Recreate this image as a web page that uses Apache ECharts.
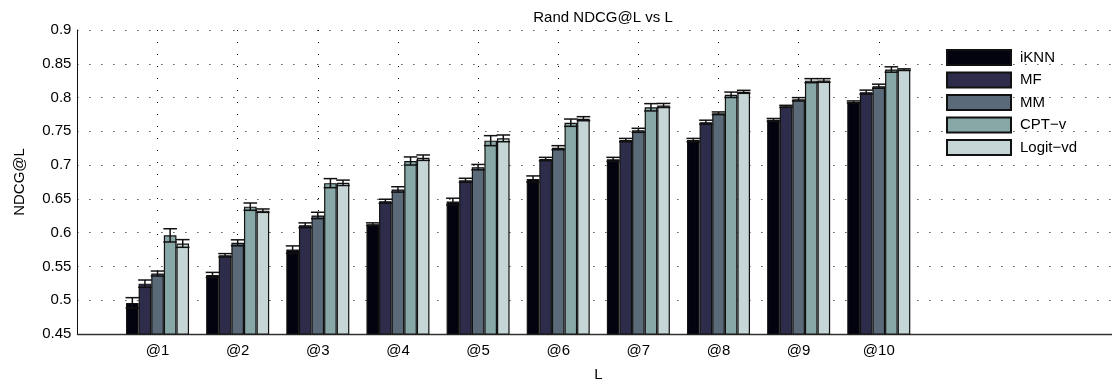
<!DOCTYPE html>
<html>
<head>
<meta charset="utf-8">
<script src="https://cdn.jsdelivr.net/npm/echarts@6/dist/echarts.min.js"></script>
<style>
html,body{margin:0;padding:0;background:#fff;}
#chart{width:1112px;height:381px;}
</style>
</head>
<body>
<div id="chart"></div>
<script>
// ---- data ----
const categories = ['', '@1', '@2', '@3', '@4', '@5', '@6', '@7', '@8', '@9', '@10', '', '', ''];
const seriesNames = ['iKNN', 'MF', 'MM', 'CPT\u2212v', 'Logit\u2212vd'];
const iKNN     = [0.496, 0.5375, 0.575, 0.6125, 0.646, 0.6795, 0.7085, 0.737, 0.767, 0.7935];
const MF       = [0.5245, 0.5665, 0.611, 0.6465, 0.6775, 0.709, 0.737, 0.7635, 0.787, 0.808];
const MM       = [0.5395, 0.585, 0.6255, 0.6640, 0.697, 0.7258, 0.7515, 0.7767, 0.7974, 0.8168];
const CPTv     = [0.5960, 0.6385, 0.6733, 0.7061, 0.7362, 0.7628, 0.7856, 0.8041, 0.8250, 0.8415];
const LogitVd  = [0.584, 0.6326, 0.6738, 0.7110, 0.7396, 0.7687, 0.7883, 0.8085, 0.8253, 0.8413];
const iKNNErr    = [0.0078, 0.0037, 0.0054, 0.002, 0.005, 0.0045, 0.003, 0.0025, 0.002, 0.0015];
const MFErr      = [0.0054, 0.0025, 0.0035, 0.003, 0.003, 0.0025, 0.0025, 0.003, 0.0015, 0.003];
const MMErr      = [0.0037, 0.0044, 0.0047, 0.004, 0.004, 0.003, 0.003, 0.002, 0.0025, 0.003];
const CPTvErr    = [0.0098, 0.0054, 0.0067, 0.006, 0.0074, 0.0054, 0.0054, 0.004, 0.003, 0.004];
const LogitVdErr = [0.0057, 0.0025, 0.004, 0.004, 0.005, 0.003, 0.003, 0.0022, 0.0027, 0.0012];
const yTicks = { min: 0.45, max: 0.9, step: 0.05 };

// ---- styling ----
const colors = ['#03030f', '#2d2d4b', '#5a6a79', '#87a8a6', '#c6d5d5'];
const values = [iKNN, MF, MM, CPTv, LogitVd];
const errs = [iKNNErr, MFErr, MMErr, CPTvErr, LogitVdErr];
const BAR_W = 12.6;
const FONT = '"Liberation Sans", Arial, Helvetica, sans-serif';

const barSeries = values.map((arr, si) => ({
  name: seriesNames[si],
  type: 'bar',
  barWidth: BAR_W,
  barGap: '0%',
  data: [null].concat(arr),
  itemStyle: { color: colors[si], borderColor: '#111', borderWidth: 1.2 },
  emphasis: { disabled: true },
  z: 2
}));

const errData = [];
values.forEach((arr, si) => arr.forEach((v, ci) => errData.push([ci + 1, si, v, errs[si][ci]])));

const errSeries = {
  type: 'custom',
  name: 'err',
  z: 5,
  silent: true,
  data: errData,
  encode: { x: 0, y: 2 },
  renderItem: function (params, api) {
    const ci = api.value(0), si = api.value(1), v = api.value(2), e = api.value(3);
    const hi = api.coord([ci, v + e]);
    const lo = api.coord([ci, v - e]);
    const x = hi[0] + (si - 2) * BAR_W;
    const cap = BAR_W / 2 + 0.5;
    const st = { stroke: '#111', lineWidth: 1.5 };
    return {
      type: 'group',
      children: [
        { type: 'line', shape: { x1: x, y1: hi[1], x2: x, y2: lo[1] }, style: st },
        { type: 'line', shape: { x1: x - cap, y1: hi[1], x2: x + cap, y2: hi[1] }, style: st },
        { type: 'line', shape: { x1: x - cap, y1: lo[1], x2: x + cap, y2: lo[1] }, style: st }
      ]
    };
  }
};

const dotted = { color: '#000', width: 1, type: [1, 11] };

const option = {
  animation: false,
  backgroundColor: '#fff',
  title: {
    text: 'Rand NDCG@L vs L',
    left: 598, top: 5, textAlign: 'center',
    textStyle: { fontFamily: FONT, fontSize: 15, fontWeight: 'normal', color: '#000' }
  },
  legend: {
    orient: 'vertical',
    left: 946, top: 49,
    padding: 0,
    itemWidth: 64, itemHeight: 15, itemGap: 5.5,
    icon: 'rect',
    data: seriesNames,
    selectedMode: false,
    textStyle: { fontFamily: FONT, fontSize: 15, color: '#000', padding: [0, 0, 0, 4] }
  },
  grid: { left: 77.4, right: -7.2, top: 30, bottom: 47, containLabel: false, outerBoundsMode: 'none' },
  xAxis: {
    type: 'category',
    data: categories,
    boundaryGap: false,
    name: 'L',
    nameLocation: 'middle',
    nameGap: 33,
    nameTextStyle: { fontFamily: FONT, fontSize: 15, color: '#000' },
    axisLine: { show: true, lineStyle: { color: '#333', width: 1.3 } },
    axisTick: { show: false },
    axisLabel: { interval: 0, margin: 9, fontFamily: FONT, fontSize: 15, color: '#000' },
    splitLine: { show: true, interval: function (i, v) { return v !== ''; }, lineStyle: dotted }
  },
  yAxis: {
    type: 'value',
    min: yTicks.min, max: yTicks.max, interval: yTicks.step,
    name: 'NDCG@L',
    nameLocation: 'middle',
    nameGap: 50,
    nameTextStyle: { fontFamily: FONT, fontSize: 15, color: '#000' },
    axisLine: { show: true, lineStyle: { color: '#111', width: 1 } },
    axisTick: { show: false },
    axisLabel: {
      margin: 6, fontFamily: FONT, fontSize: 15, color: '#000',
      formatter: function (v) { return String(+v.toFixed(2)); }
    },
    splitLine: { show: true, lineStyle: dotted }
  },
  series: barSeries.concat([errSeries])
};

const chart = echarts.init(document.getElementById('chart'), null, { renderer: 'canvas' });
chart.setOption(option);
</script>
</body>
</html>
